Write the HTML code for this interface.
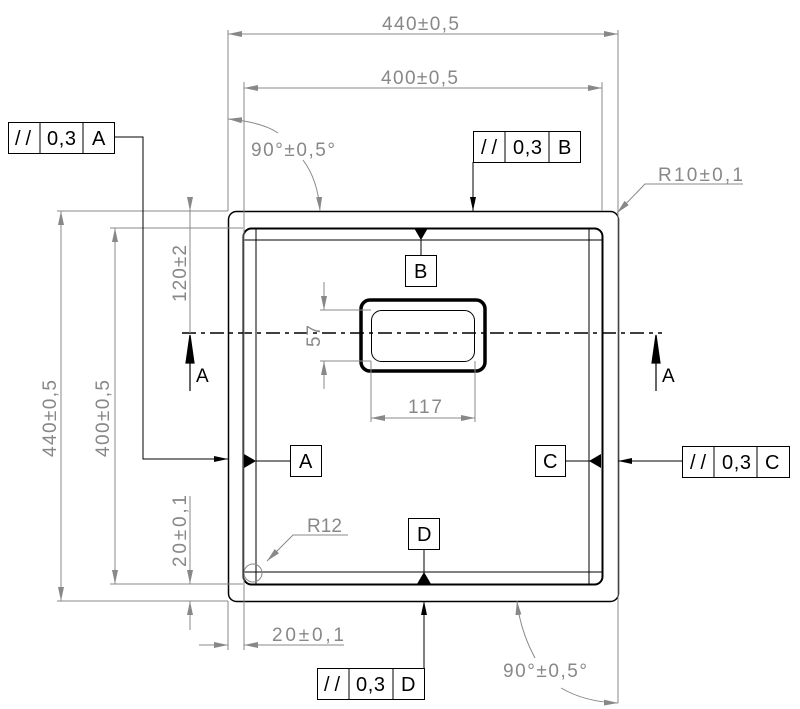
<!DOCTYPE html>
<html><head><meta charset="utf-8"><style>html,body{margin:0;padding:0;background:#fff}svg{display:block}</style></head>
<body>
<svg width="800" height="709" viewBox="0 0 800 709" xmlns="http://www.w3.org/2000/svg" font-family="Liberation Sans, sans-serif">
<defs>
<marker id="g" viewBox="0 0 14 6" refX="14" refY="3" markerWidth="14" markerHeight="6" markerUnits="userSpaceOnUse" orient="auto-start-reverse"><path d="M0,0 L14,3 L0,6 z" fill="#888"/></marker>
<marker id="k" viewBox="0 0 14 6" refX="14" refY="3" markerWidth="14" markerHeight="6" markerUnits="userSpaceOnUse" orient="auto-start-reverse"><path d="M0,0 L14,3 L0,6 z" fill="#000"/></marker>
</defs>
<g fill="none" stroke="#000">
<rect x="228.5" y="211.5" width="390" height="390" rx="8" stroke-width="1.5"/>
<rect x="243.5" y="228.5" width="359" height="356" rx="8" stroke-width="2"/>
<line x1="256" y1="228" x2="256" y2="584"/><line x1="589" y1="228" x2="589" y2="584"/>
<line x1="243" y1="240" x2="602" y2="240"/><line x1="243" y1="572" x2="602" y2="572"/>
<rect x="361" y="300" width="124" height="71" rx="9" stroke-width="3.5"/>
<rect x="371.5" y="310.5" width="103" height="51" rx="10"/>
<line x1="182" y1="333" x2="662" y2="333" stroke-width="1.5" stroke-dasharray="14,5,4,5"/>
</g>
<g stroke="#888" fill="none" stroke-width="1">
<line x1="228" y1="30" x2="228" y2="211"/><line x1="618" y1="30" x2="618" y2="703"/>
<line x1="228" y1="34" x2="618" y2="34" marker-start="url(#g)" marker-end="url(#g)"/>
<line x1="244" y1="82" x2="244" y2="650"/><line x1="602" y1="82" x2="602" y2="211"/>
<line x1="244" y1="88" x2="602" y2="88" marker-start="url(#g)" marker-end="url(#g)"/>
<path d="M278,133 Q262,122 228,119" marker-end="url(#g)"/>
<path d="M303,160 Q318,180 320,211" marker-end="url(#g)"/>
<line x1="57" y1="211" x2="228" y2="211"/><line x1="57" y1="601" x2="228" y2="601"/>
<line x1="61" y1="211" x2="61" y2="601" marker-start="url(#g)" marker-end="url(#g)"/>
<line x1="110" y1="228" x2="243" y2="228"/><line x1="110" y1="584" x2="243" y2="584"/>
<line x1="115" y1="228" x2="115" y2="584" marker-start="url(#g)" marker-end="url(#g)"/>
<line x1="190" y1="201" x2="190" y2="211" marker-end="url(#g)"/>
<line x1="190" y1="211" x2="190" y2="333"/>
<line x1="190" y1="496" x2="190" y2="584" marker-end="url(#g)"/>
<line x1="190" y1="630" x2="190" y2="601" marker-end="url(#g)"/>
<line x1="320" y1="310" x2="371" y2="310"/><line x1="320" y1="361" x2="371" y2="361"/>
<line x1="324" y1="282" x2="324" y2="310" marker-end="url(#g)"/>
<line x1="324" y1="389" x2="324" y2="361" marker-end="url(#g)"/>
<line x1="371" y1="361" x2="371" y2="422"/><line x1="475" y1="361" x2="475" y2="422"/>
<line x1="371" y1="418" x2="475" y2="418" marker-start="url(#g)" marker-end="url(#g)"/>
<line x1="199" y1="645" x2="228" y2="645" marker-end="url(#g)"/>
<line x1="344" y1="645" x2="244" y2="645" marker-end="url(#g)"/>
<line x1="228" y1="601" x2="228" y2="650"/>
<path d="M348,535 L293,535 L267,561" marker-end="url(#g)"/>
<circle cx="253" cy="573" r="9"/>
<path d="M743,184 L645,184 L617,213" marker-end="url(#g)"/>
<path d="M535,658 Q520,630 517,601" marker-end="url(#g)"/>
<path d="M561,688 Q585,702 618,703" marker-end="url(#g)"/>
</g>
<g fill="#888" font-size="19">
<text x="382" y="30" textLength="77" lengthAdjust="spacing">440±0,5</text>
<text x="381" y="84" textLength="77" lengthAdjust="spacing">400±0,5</text>
<text x="251" y="156" textLength="84" lengthAdjust="spacing">90°±0,5°</text>
<text x="658" y="181" textLength="85" lengthAdjust="spacing">R10±0,1</text>
<text x="307" y="532" textLength="35" lengthAdjust="spacing">R12</text>
<text x="408" y="413" textLength="34" lengthAdjust="spacing">117</text>
<text x="272" y="641" textLength="72" lengthAdjust="spacing">20±0,1</text>
<text x="503" y="677" textLength="84" lengthAdjust="spacing">90°±0,5°</text>
<text transform="translate(56,457) rotate(-90)" textLength="77" lengthAdjust="spacing">440±0,5</text>
<text transform="translate(109,457) rotate(-90)" textLength="77" lengthAdjust="spacing">400±0,5</text>
<text transform="translate(186,302) rotate(-90)" textLength="57" lengthAdjust="spacing">120±2</text>
<text transform="translate(186,567) rotate(-90)" textLength="72" lengthAdjust="spacing">20±0,1</text>
<text transform="translate(320,347) rotate(-90)" textLength="22" lengthAdjust="spacing">57</text>
</g>
<g stroke="#000" fill="#000" stroke-width="1.2">
<line x1="190" y1="391" x2="190" y2="336"/><path d="M186,363 L190,335 L194,363 z"/>
<line x1="656" y1="391" x2="656" y2="336"/><path d="M652,363 L656,335 L660,363 z"/>
</g>
<g font-size="19" fill="#000">
<text x="196" y="382">A</text><text x="662" y="382">A</text>
</g>
<g fill="none" stroke="#000" stroke-width="1">
<rect x="8.5" y="122.5" width="106" height="31"/><line x1="40" y1="122" x2="40" y2="153"/><line x1="83" y1="122" x2="83" y2="153"/>
<path d="M114,137 L143,137 L143,459 L228,459" marker-end="url(#k)"/>
<rect x="473.5" y="131.5" width="107" height="31"/><line x1="505" y1="131" x2="505" y2="162"/><line x1="549" y1="131" x2="549" y2="162"/>
<line x1="473" y1="162" x2="473" y2="211" marker-end="url(#k)"/>
<rect x="682.5" y="446.5" width="107" height="31"/><line x1="714" y1="446" x2="714" y2="477"/><line x1="757" y1="446" x2="757" y2="477"/>
<line x1="682" y1="461" x2="618" y2="461" marker-end="url(#k)"/>
<rect x="317.5" y="668.5" width="107" height="31"/><line x1="349" y1="668" x2="349" y2="699"/><line x1="393" y1="668" x2="393" y2="699"/>
<line x1="424" y1="668" x2="424" y2="601" marker-end="url(#k)"/>
<rect x="290.5" y="445.5" width="31" height="31"/><line x1="256" y1="461" x2="290" y2="461"/>
<rect x="405.5" y="255.5" width="31" height="31"/><line x1="421" y1="240" x2="421" y2="255"/>
<rect x="535.5" y="445.5" width="30" height="31"/><line x1="565" y1="461" x2="589" y2="461"/>
<rect x="408.5" y="518.5" width="31" height="31"/><line x1="424" y1="549" x2="424" y2="572"/>
</g>
<g fill="#000">
<path d="M244,454 L256,461 L244,468 z"/>
<path d="M414,228 L421,240 L428,228 z"/>
<path d="M601,454 L589,461 L601,468 z"/>
<path d="M417,584 L424,572 L431,584 z"/>
</g>
<g font-size="20" fill="#000">
<text x="15" y="145" textLength="16" lengthAdjust="spacing">//</text><text x="47" y="145" textLength="29" lengthAdjust="spacing">0,3</text><text x="92" y="145">A</text>
<text x="481" y="154" textLength="16" lengthAdjust="spacing">//</text><text x="513" y="154" textLength="29" lengthAdjust="spacing">0,3</text><text x="558" y="154">B</text>
<text x="690" y="469" textLength="16" lengthAdjust="spacing">//</text><text x="722" y="469" textLength="29" lengthAdjust="spacing">0,3</text><text x="765" y="469">C</text>
<text x="324" y="691" textLength="16" lengthAdjust="spacing">//</text><text x="356" y="691" textLength="29" lengthAdjust="spacing">0,3</text><text x="401" y="691">D</text>
<text x="299" y="468">A</text><text x="414" y="278">B</text><text x="543" y="468">C</text><text x="417" y="541">D</text>
</g>
</svg>
</body></html>
